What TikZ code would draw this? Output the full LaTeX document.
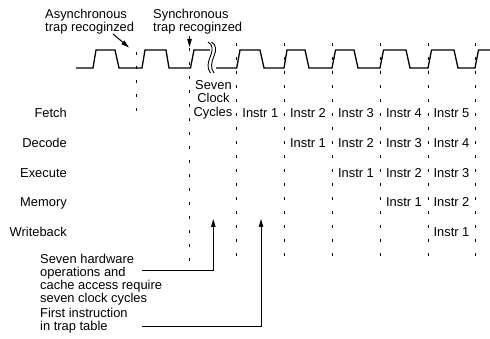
\documentclass[tikz,border=0pt]{standalone}
\usepackage{fontspec}
\setmainfont{Liberation Sans}
\usetikzlibrary{arrows.meta}
\begin{document}
\begin{tikzpicture}[x=1pt,y=-1pt,
  lbl/.style={inner sep=0pt, font=\fontsize{12.9}{13.3}\selectfont},
  clk/.style={line width=1.3pt, line join=miter},
  tick/.style={line width=1pt, dash pattern=on 3.5pt off 10.5pt},
  brk/.style={line width=0.9pt},
  arr/.style={line width=1pt, -{Triangle[length=8pt,width=4.5pt]}}]
\useasboundingbox (0,0) rectangle (490,339);

% clock waveform, broken by the squiggle after the synchronous trap
\draw[clk] (76,68) -- (93,68) -- (96,50) -- (115,50) -- (119,68)
  -- (142,68) -- (145,50) -- (166,50) -- (169,68) -- (190.5,68)
  -- (194,50) -- (210,50);
\draw[clk] (216,68) -- (236.7,68) -- (240,50) -- (260,50) -- (264,68)
  -- (284,68) -- (287,50) -- (305,50) -- (309,68) -- (332,68)
  -- (335.5,50) -- (354,50) -- (358,68) -- (380,68) -- (383.5,50)
  -- (406,50) -- (410,68) -- (428,68) -- (431.5,50) -- (454,50)
  -- (458,68) -- (475,68) -- (478.5,50) -- (490,50);

% break marks
\draw[brk] (208,42) .. controls (213,45) and (213,50) .. (210.5,56)
  .. controls (208,62) and (206.5,68) .. (210.5,73);
\draw[brk] (211.5,42) .. controls (216.5,45) and (216.5,50) .. (214,56)
  .. controls (211.5,62) and (210,68) .. (214,73);

% clock edge markers
\draw[tick] (136.7,52) -- (136.7,117);
\draw[tick] (189.5,48) -- (189.5,263);
\foreach \x in {236.7,284,332,380,428,475}
  \draw[tick] (\x,43) -- (\x,263);

% trap annotations
\node[lbl, anchor=base west] (async1) at (45,18.3) {Asynchronous};
\node[lbl, anchor=base west] (async2) at (45,31.7) {trap recoginzed};
\node[lbl, anchor=base west] (sync1) at (153,18.3) {Synchronous};
\node[lbl, anchor=base west] (sync2) at (153,31.7) {trap recoginzed};
\coordinate (asyncfrom) at (113,34);
\coordinate (asyncto) at (129,47.5);
\coordinate (syncfrom) at (189.5,36);
\coordinate (syncto) at (189.5,47);
\draw[arr] (asyncfrom) -- (asyncto);
\draw[arr] (syncfrom) -- (syncto);

\node[lbl, anchor=base] (seven) at (213.5,89.3) {Seven};
\node[lbl, anchor=base] (clock) at (213.5,102.7) {Clock};
\node[lbl, anchor=base] (cycles) at (213,116.2) {Cycles};

% pipeline stages
\foreach \r/\yy/\name in {1/118/Fetch,2/147.7/Decode,3/177.3/Execute,4/207/Memory,5/236.6/Writeback}{
  \node[lbl, anchor=base east] (stage\r) at (67,\yy) {\name};
  \foreach \c in {\r,...,5}{
    \pgfmathtruncatemacro\n{\c-\r+1}
    \pgfmathsetmacro\cx{{260.35,308,356,404,451.5}[\c-1]}
    \node[lbl, anchor=base] (instr\r\c) at (\cx,\yy) {Instr \n};
  }
}

% bottom notes
\node[lbl, anchor=base west] (hw1) at (40,263.8) {Seven hardware};
\node[lbl, anchor=base west] (hw2) at (40,276.8) {operations and};
\node[lbl, anchor=base west] (hw3) at (40,289.8) {cache access require};
\node[lbl, anchor=base west] (hw4) at (40,302.3) {seven clock cycles};
\node[lbl, anchor=base west] (fi1) at (40,317.5) {First instruction};
\node[lbl, anchor=base west] (fi2) at (40,330.5) {in trap table};

\coordinate (hwstart) at (142,270);
\coordinate (hwtip) at (213.3,219);
\coordinate (fistart) at (142,326);
\coordinate (fitip) at (261,219);
\draw[arr] (hwstart) -| (hwtip);
\draw[arr] (fistart) -| (fitip);
\end{tikzpicture}
\end{document}
